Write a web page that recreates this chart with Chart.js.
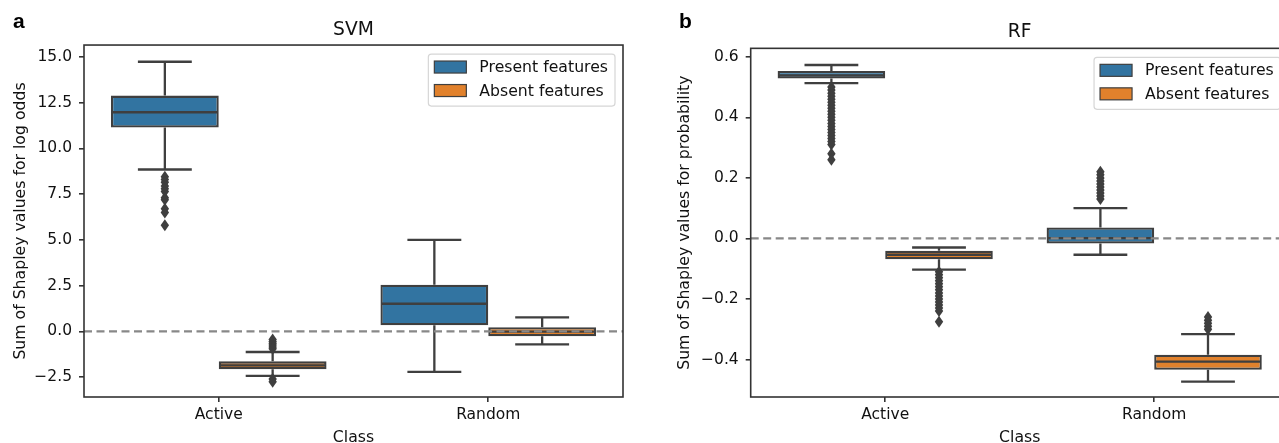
<!DOCTYPE html>
<html>
<head>
<meta charset="utf-8">
<script src="https://cdn.jsdelivr.net/npm/chart.js@4.4.0/dist/chart.umd.min.js"></script>
<style>
  html, body { margin: 0; padding: 0; background: #fff; overflow: hidden; width: 1279px; height: 443px; }
  #wrapA { position: absolute; left: 0; top: 0; }
  #wrapB { position: absolute; left: 660px; top: 0; }
</style>
</head>
<body>
<div id="wrapA"><canvas id="svm" width="640" height="450"></canvas></div>
<div id="wrapB"><canvas id="rf" width="640" height="450"></canvas></div>
<script>
const classes = ['Active', 'Random'];
const seriesNames = ['Present features', 'Absent features'];
const seriesColors = ['#3274a1', '#e1812c'];

// box stats per class: [lower whisker, q1, median, q3, upper whisker]
const svmPresent = [[8.85, 11.14, 11.98, 12.89, 14.74], [-2.22, 0.33, 1.51, 2.55, 5.0]];
const svmAbsent = [[-2.44, -2.07, -1.86, -1.64, -1.13], [-0.71, -0.27, -0.02, 0.22, 0.76]];
const svmPresentOut = [[8.45, 8.3, 8.15, 7.95, 7.8, 7.65, 7.3, 7.2, 6.7, 6.5, 5.8], []];
const svmAbsentOut = [[-0.45, -0.55, -0.65, -0.75, -0.85, -0.95, -2.6, -2.75], []];
const svmTicks = [-2.5, 0, 2.5, 5, 7.5, 10, 12.5, 15];

const rfPresent = [[0.513, 0.528, 0.539, 0.553, 0.573], [-0.054, -0.017, 0.001, 0.036, 0.10]];
const rfAbsent = [[-0.103, -0.069, -0.054, -0.041, -0.03], [-0.473, -0.434, -0.407, -0.384, -0.316]];
const rfPresentOut = [
  [0.50, 0.49, 0.48, 0.47, 0.46, 0.45, 0.44, 0.43, 0.42, 0.41, 0.40, 0.39, 0.38, 0.37, 0.36, 0.35, 0.34, 0.33, 0.32, 0.31, 0.28, 0.26],
  [0.13, 0.14, 0.15, 0.16, 0.17, 0.18, 0.19, 0.20, 0.21, 0.22]
];
const rfAbsentOut = [
  [-0.11, -0.12, -0.13, -0.14, -0.15, -0.16, -0.17, -0.18, -0.19, -0.20, -0.21, -0.22, -0.23, -0.24, -0.275],
  [-0.30, -0.29, -0.28, -0.27, -0.26]
];
const rfTicks = [-0.4, -0.2, 0, 0.2, 0.4, 0.6];

const edge = '#3f3f3f';
const textColor = '#111';
const tickFont = { family: 'DejaVu Sans', size: 15.5 };
const labelFont = { family: 'DejaVu Sans', size: 15.7 };

function fmt(v) {
  return v.toFixed(1).replace('-', '\u2212');
}

// whiskers, caps, medians, fliers, zero line, frame
const boxPlot = {
  id: 'boxPlot',
  afterDatasetsDraw(chart) {
    const ctx = chart.ctx;
    const ys = chart.scales.y;
    const area = chart.chartArea;
    ctx.save();
    ctx.strokeStyle = edge;
    ctx.fillStyle = edge;
    ctx.lineWidth = 2.3;
    chart.data.datasets.forEach((ds, di) => {
      const meta = chart.getDatasetMeta(di);
      meta.data.forEach((bar, i) => {
        const s = ds.stats[i];
        const x = bar.x, w = bar.width;
        const p = s.map(v => ys.getPixelForValue(v));
        ctx.beginPath();
        ctx.moveTo(x, p[0]); ctx.lineTo(x, p[1]);
        ctx.moveTo(x, p[3]); ctx.lineTo(x, p[4]);
        ctx.moveTo(x - w / 4, p[0]); ctx.lineTo(x + w / 4, p[0]);
        ctx.moveTo(x - w / 4, p[4]); ctx.lineTo(x + w / 4, p[4]);
        ctx.moveTo(x - w / 2 + 1, p[2]); ctx.lineTo(x + w / 2 - 1, p[2]);
        ctx.stroke();
        ds.outliers[i].forEach(v => {
          const py = ys.getPixelForValue(v);
          ctx.beginPath();
          ctx.moveTo(x, py - 6);
          ctx.lineTo(x + 4.2, py);
          ctx.lineTo(x, py + 6);
          ctx.lineTo(x - 4.2, py);
          ctx.closePath();
          ctx.fill();
        });
      });
    });

    // dashed zero line
    const y0 = ys.getPixelForValue(0);
    ctx.strokeStyle = '#888';
    ctx.lineWidth = 2.2;
    ctx.setLineDash([8, 4.5]);
    ctx.beginPath();
    ctx.moveTo(area.left, y0);
    ctx.lineTo(area.right, y0);
    ctx.stroke();
    ctx.setLineDash([]);

    // frame
    ctx.strokeStyle = '#333';
    ctx.lineWidth = 1.6;
    ctx.strokeRect(area.left, area.top, area.right - area.left, area.bottom - area.top);
    ctx.restore();
  },
  afterDraw(chart, args, opts) {
    const ctx = chart.ctx;
    const area = chart.chartArea;
    ctx.save();
    // panel letter
    ctx.font = 'bold 21px "Liberation Sans"';
    ctx.fillStyle = '#000';
    ctx.textBaseline = 'alphabetic';
    ctx.fillText(opts.letter, opts.letterX, 28.3);

    // legend box inside the axes
    ctx.font = '15.7px "DejaVu Sans"';
    const names = chart.data.datasets.map(d => d.label);
    const tw = Math.max(...names.map(n => ctx.measureText(n).width));
    const bw = 6 + 32 + 13 + tw + 7;
    const bh = 52;
    const bx = area.right - 8 - bw;
    const by = area.top + 9;
    ctx.fillStyle = 'rgba(255,255,255,0.85)';
    ctx.strokeStyle = '#d6d6d6';
    ctx.lineWidth = 1.2;
    ctx.beginPath();
    ctx.roundRect(bx, by, bw, bh, 3);
    ctx.fill();
    ctx.stroke();
    chart.data.datasets.forEach((ds, i) => {
      const cy = by + 13 + i * 23.5;
      ctx.fillStyle = ds.backgroundColor;
      ctx.fillRect(bx + 6, cy - 6, 32, 12);
      ctx.strokeStyle = edge;
      ctx.lineWidth = 1.2;
      ctx.strokeRect(bx + 6, cy - 6, 32, 12);
      ctx.fillStyle = textColor;
      ctx.textBaseline = 'middle';
      ctx.fillText(ds.label, bx + 51, cy + 1);
    });
    ctx.restore();
  }
};

function makeDatasets(present, absent, presentOut, absentOut) {
  const stats = [present, absent];
  const outs = [presentOut, absentOut];
  return seriesNames.map((name, k) => ({
    label: name,
    data: stats[k].map(s => [s[1], s[3]]),
    stats: stats[k],
    outliers: outs[k],
    backgroundColor: seriesColors[k],
    borderColor: edge,
    borderWidth: 2.3,
    borderSkipped: false,
    categoryPercentage: 0.8,
    barPercentage: 1.0
  }));
}

function makeChart(id, cfg) {
  const ctx = document.getElementById(id).getContext('2d');
  return new Chart(ctx, {
    type: 'bar',
    data: {
      labels: classes,
      datasets: makeDatasets(cfg.present, cfg.absent, cfg.presentOut, cfg.absentOut)
    },
    options: {
      responsive: false,
      animation: false,
      layout: { padding: { left: 0, right: cfg.padRight, top: 0, bottom: 0 } },
      plugins: {
        legend: { display: false },
        tooltip: { enabled: false },
        title: {
          display: true,
          text: cfg.title,
          fullSize: false,
          color: textColor,
          font: { family: 'DejaVu Sans', size: 18.7, weight: 'normal' },
          padding: cfg.titlePad
        },
        boxPlot: { letter: cfg.letter, letterX: cfg.letterX }
      },
      scales: {
        x: {
          offset: true,
          grid: { display: true, drawOnChartArea: false, drawTicks: true, tickLength: 5, offset: false, color: '#333', lineWidth: 1.6 },
          border: { display: false },
          ticks: { color: textColor, font: tickFont, padding: 4 },
          title: { display: true, text: 'Class', color: textColor, font: labelFont, padding: { top: 0, bottom: 2.6 } },
          afterFit: s => { s.height = 53; }
        },
        y: {
          min: cfg.min,
          max: cfg.max,
          afterBuildTicks: s => { s.ticks = cfg.ticks.map(v => ({ value: v })); },
          grid: { display: true, drawOnChartArea: false, drawTicks: true, tickLength: 5, color: '#333', lineWidth: 1.6 },
          border: { display: false },
          ticks: { color: textColor, font: tickFont, padding: 7, callback: v => fmt(v) },
          title: { display: true, text: cfg.yTitle, color: textColor, font: labelFont, padding: { top: cfg.yTitlePad, bottom: 0 } },
          afterFit: s => { s.width = cfg.yWidth; }
        }
      }
    },
    plugins: [boxPlot]
  });
}

makeChart('svm', {
  present: svmPresent, absent: svmAbsent, presentOut: svmPresentOut, absentOut: svmAbsentOut,
  ticks: svmTicks, min: -3.59, max: 15.655,
  title: 'SVM', titlePad: { top: 18.8, bottom: 3.8 },
  yTitle: 'Sum of Shapley values for log odds', yTitlePad: 11.6, yWidth: 84,
  padRight: 17, letter: 'a', letterX: 13
});

makeChart('rf', {
  present: rfPresent, absent: rfAbsent, presentOut: rfPresentOut, absentOut: rfAbsentOut,
  ticks: rfTicks, min: -0.524, max: 0.628,
  title: 'RF', titlePad: { top: 20.5, bottom: 5.4 },
  yTitle: 'Sum of Shapley values for probability', yTitlePad: 15.6, yWidth: 90.7,
  padRight: 11.3, letter: 'b', letterX: 19
});
</script>
</body>
</html>
